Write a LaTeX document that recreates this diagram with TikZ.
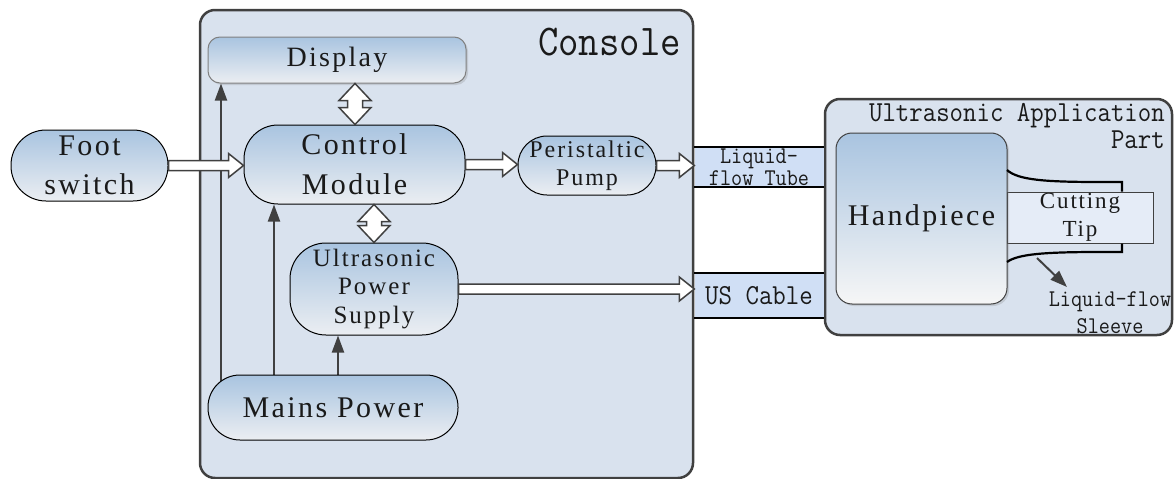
\documentclass[tikz,border=0pt]{standalone}
\usepackage{fontspec}
\setmainfont{Liberation Serif}[LetterSpace=8]
\newfontfamily\monof{Latin Modern Mono}[FakeStretch=0.9]
\usetikzlibrary{arrows.meta,calc,backgrounds,shadows}
\pgfdeclarelayer{lines}
\pgfsetlayers{background,lines,main}
\definecolor{consolefill}{HTML}{D9E2EE}
\definecolor{nodetop}{HTML}{A9C4E0}
\definecolor{nodebot}{HTML}{EBEEF2}
\definecolor{bandfill}{HTML}{D0DFF5}
\definecolor{tipfill}{HTML}{E5ECF7}
\definecolor{dgray}{HTML}{404040}
\definecolor{txt}{HTML}{1A1A1A}
\newcommand{\harr}[2]{%
  \path[hollow] let \p1=(#1), \p2=(#2) in
  (\x1,\y1+5pt) -- (\x2-15pt,\y1+5pt) -- (\x2-15pt,\y1+12pt) -- (\x2,\y1)
  -- (\x2-15pt,\y1-12pt) -- (\x2-15pt,\y1-5pt) -- (\x1,\y1-5pt) -- cycle;}
\newcommand{\vdarr}[2]{%
  \path[hollow] let \p1=(#1), \p2=(#2) in
  (\x1,\y1) -- (\x1+16pt,\y1-17pt) -- (\x1+7.5pt,\y1-17pt) -- (\x1+7.5pt,\y2+17pt)
  -- (\x1+16pt,\y2+17pt) -- (\x1,\y2) -- (\x1-16pt,\y2+17pt) -- (\x1-7.5pt,\y2+17pt)
  -- (\x1-7.5pt,\y1-17pt) -- (\x1-16pt,\y1-17pt) -- cycle;}
\begin{document}
\begin{tikzpicture}[x=1pt,y=-1pt,
  panel/.style={draw=dgray, line width=2.5pt, fill=consolefill, rounded corners=15pt, inner sep=0pt},
  box/.style={draw=black, line width=1pt, top color=nodetop, bottom color=nodebot,
    inner sep=0pt, align=center, text=txt},
  band/.style={fill=bandfill, inner sep=0pt, minimum width=129pt, align=center, text=txt},
  hollow/.style={draw=dgray, line width=1.5pt, fill=white, line join=miter},
  feed/.style={draw=dgray, line width=2pt, -{Triangle[length=17pt,width=12pt]}},
  edge/.style={draw=black, line width=2.2pt},
  lbl/.style={inner sep=0pt, text=txt}]
\useasboundingbox (0,0) rectangle (1176,479);

\begin{pgfonlayer}{background}
  \node[panel, minimum width=493pt, minimum height=468pt] (console) at (446.5,244) {};
  \node[panel, minimum width=347pt, minimum height=236pt] (app) at (998.5,217) {};
\end{pgfonlayer}

% console title
\node[lbl, anchor=base east, font=\monof\fontsize{44}{44}\selectfont] (contitle) at (681,55) {Console};

% nodes
\node[box, draw=gray, rounded corners=12pt, minimum width=258pt, minimum height=46pt,
  drop shadow={opacity=0.25, shadow xshift=2pt, shadow yshift=-2pt},
  font=\fontsize{28}{30}\selectfont] (disp) at (337,60) {Display};
\node[box, rounded corners=35pt, minimum width=157pt, minimum height=71pt,
  font=\fontsize{30}{39}\selectfont] (foot) at (89.5,165.5) {Foot\\switch};
\node[box, rounded corners=34pt, minimum width=221pt, minimum height=79pt,
  font=\fontsize{30}{40}\selectfont] (ctrl) at (354.5,164.5) {Control\\Module};
\node[box, rounded corners=29pt, minimum width=138pt, minimum height=59pt,
  font=\fontsize{24}{28}\selectfont] (pump) at (587,165.5) {Peristaltic\\Pump};
\node[box, rounded corners=36pt, minimum width=168pt, minimum height=92pt,
  font=\fontsize{25}{28.5}\selectfont] (ups) at (374,289) {Ultrasonic\\Power\\Supply};
\node[box, rounded corners=32pt, minimum width=250pt, minimum height=65pt,
  font=\fontsize{30}{36}\selectfont] (mains) at (333,407.5) {Mains Power};

% bands
\node[band, minimum height=40pt, font=\monof\fontsize{24}{22}\selectfont] (tube) at (759,167) {Liquid-\\flow Tube};
\draw[edge] (tube.north west) -- (tube.north east);
\draw[edge] (tube.south west) -- (tube.south east);
\node[band, minimum height=45pt, font=\monof\fontsize{29}{32}\selectfont] (cable) at (759,295.5) {US Cable};
\draw[edge] (cable.north west) -- (cable.north east);
\draw[edge] (cable.south west) -- (cable.south east);

% application part
\node[lbl, anchor=north east, align=right, font=\monof\fontsize{29}{27.5}\selectfont] (apptitle) at (1165,103) {Ultrasonic Application\\Part};

\node[draw=dgray, line width=1pt, fill=tipfill, inner sep=0pt, minimum width=146pt, minimum height=51pt,
  align=center, text=txt, font=\fontsize{23}{28}\selectfont] (tip) at (1080,217.5) {Cutting\\Tip};
\node[box, draw=dgray, bottom color=white!93!gray, rounded corners=16pt, minimum width=171pt, minimum height=171pt,
  drop shadow={opacity=0.25, shadow xshift=2pt, shadow yshift=-2pt},
  font=\fontsize{30}{36}\selectfont] (hand) at (921.5,218.5) {Handpiece};

\coordinate (sa) at (1007,170);
\coordinate (sb) at (1122,182);
\coordinate (sc) at (1007,262);
\coordinate (sd) at (1122,252);
\draw[edge] (sa) .. controls (1018,180) and (1045,182) .. (1100,182) -- (sb) -- (sb |- tip.north);
\draw[edge] (sc) .. controls (1018,254) and (1045,252) .. (1100,252) -- (sd) -- (sd |- tip.south);

\coordinate (sl0) at (1037,258);
\node[lbl, align=center, font=\monof\fontsize{24}{27}\selectfont] (sleeve) at (1110,313) {Liquid-flow\\Sleeve};
\draw[feed] (sl0) -- (1067,287);

% thin feed arrows from mains
\begin{pgfonlayer}{lines}
  \draw[feed] (mains.center -| 221,0) -- (disp.south -| 221,0);
  \draw[feed] (mains.center -| 274,0) -- (ctrl.south -| 274,0);
  \draw[feed] (mains.center -| 338,0) -- (ups.south -| 338,0);
\end{pgfonlayer}

% hollow arrows
\harr{foot.east}{ctrl.west}
\harr{ctrl.east}{pump.west}
\harr{pump.east}{pump.east -| tube.west}
\harr{ups.east}{ups.east -| cable.west}
\vdarr{disp.south -| 355,0}{ctrl.north -| 355,0}
\vdarr{ctrl.south -| 374,0}{ups.north}
\end{tikzpicture}
\end{document}
